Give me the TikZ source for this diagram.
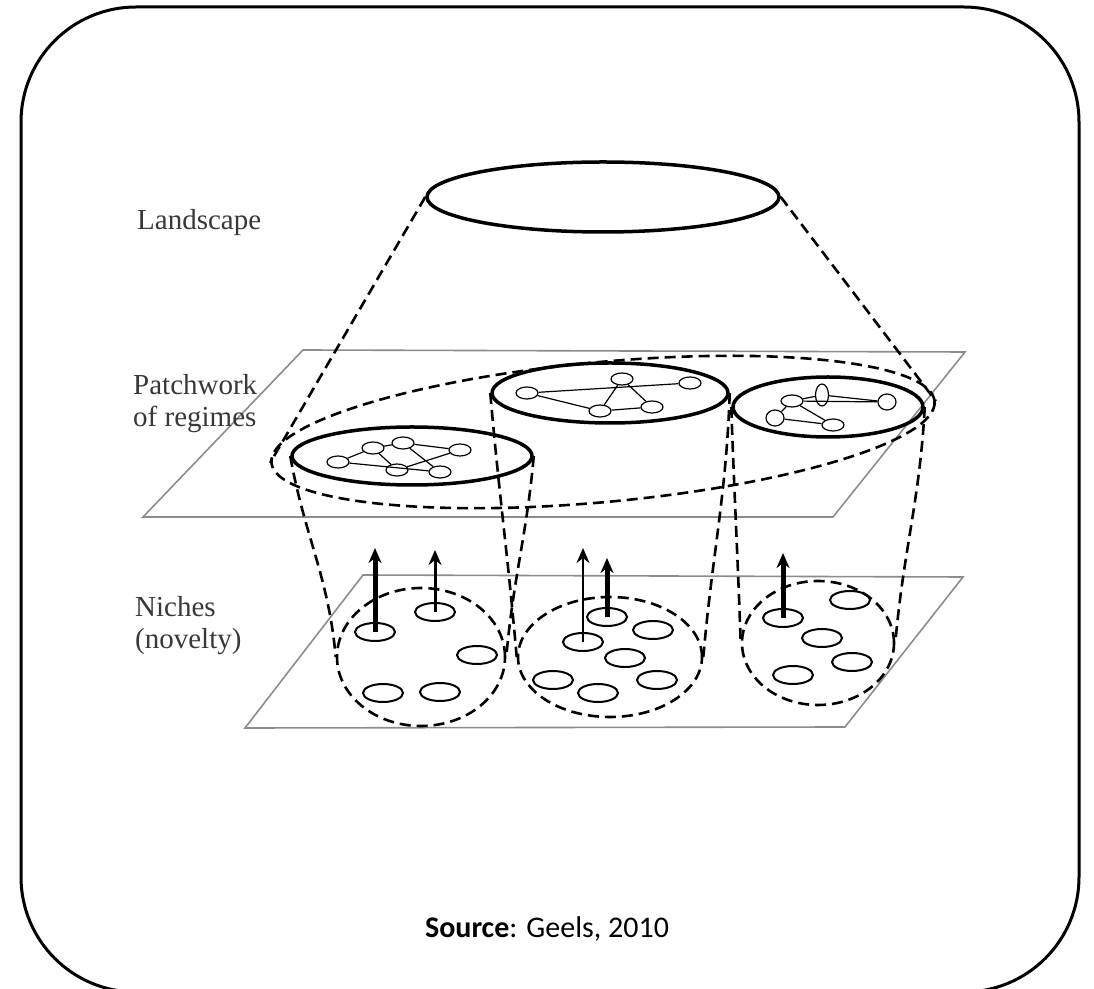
\documentclass[tikz,border=0pt]{standalone}
\usepackage{fontspec}
\setmainfont{Liberation Serif}
\newfontfamily\srcfont{Carlito}
\usetikzlibrary{shapes.geometric,arrows.meta}

\begin{document}
\begin{tikzpicture}[x=1pt,y=1pt,
  plane/.style={draw=black!45,line width=1.6pt},
  regime/.style={ellipse,draw,line width=3.5pt,inner sep=0pt},
  pc/.style={ellipse,draw,line width=1.2pt,inner sep=0pt,minimum width=22pt,minimum height=12pt},
  nc/.style={ellipse,draw,line width=2pt,inner sep=0pt,minimum width=40pt,minimum height=18pt},
  grp/.style={ellipse,draw,line width=2.6pt,dash pattern=on 11pt off 6pt,inner sep=0pt},
  dsh/.style={line width=2.6pt,dash pattern=on 11pt off 6pt},
  lbl/.style={text=black!78,font=\fontsize{29}{32}\selectfont,align=left,anchor=west,inner sep=0pt},
  up/.style={-{Stealth[length=15pt,width=13pt]}}]
 \useasboundingbox (0,0) rectangle (1094,988); %画像の大きさ
 \draw[line width=3pt,rounded corners=115pt] (21,981) rectangle (1079,-4); %枠

 % 面
 \coordinate (P1) at (303,638); \coordinate (P2) at (965,636);
 \coordinate (P3) at (833,471); \coordinate (P4) at (143,471);
 \coordinate (Q1) at (363,413); \coordinate (Q2) at (963,411);
 \coordinate (Q3) at (845,261); \coordinate (Q4) at (245,260);
 \draw[plane] (P1)--(P2)--(P3)--(P4)--cycle; %regimeの面
 \draw[plane] (Q1)--(Q2)--(Q3)--(Q4)--cycle; %nicheの面

 % ラベル
 \node[lbl] (Lland) at (137,765) {Landscape};
 \node[lbl] (Lreg) at (133,584) {Patchwork\\of regimes};
 \node[lbl] (Lnic) at (135,362) {Niches\\(novelty)};
 \node[font=\srcfont\fontsize{30}{36}\selectfont,inner sep=0pt] (src) at (547,59) {\textbf{Source}: Geels, 2010};

 % landscape
 \node[regime,minimum width=352pt,minimum height=70pt] (land) at (603,791) {};
 \node[grp,rotate=5.3,minimum width=666pt,minimum height=140pt] (patch) at (603,556) {};
 \draw[dsh] (land.west)--(patch.west);
 \draw[dsh] (land.east)--(patch.east);

 % regimes
 \node[regime,minimum width=240pt,minimum height=58pt] (R1) at (412,532) {};
 \node[regime,minimum width=236pt,minimum height=60pt] (R2) at (610,595) {};
 \node[regime,minimum width=190pt,minimum height=60pt] (R3) at (828,581) {};

 % R1のネットワーク
 \node[pc] (a) at (338,526) {}; \node[pc] (b) at (373,540) {};
 \node[pc] (c) at (403,545) {}; \node[pc] (d) at (460,538) {};
 \node[pc] (e) at (397,518) {}; \node[pc] (f) at (440,516) {};
 \draw[line width=1.2pt] (a)--(b) (a)--(f) (b)--(c) (b)--(e) (c)--(d) (c)--(f) (e)--(d);
 % R2のネットワーク
 \node[pc] (g) at (527,595) {}; \node[pc] (h) at (622,609) {};
 \node[pc] (i) at (600,577) {}; \node[pc] (j) at (652,581) {};
 \node[pc] (k) at (690,605) {};
 \draw[line width=1.2pt] (g)--(i) (g)--(k) (h)--(i) (i)--(j) (h)--(j);
 % R3のネットワーク
 \node[pc,minimum width=13pt,minimum height=22pt] (l) at (822,593) {};
 \node[pc] (m) at (792,587) {};
 \node[pc,minimum width=18pt,minimum height=16pt] (n) at (775,570) {};
 \node[pc] (o) at (833,563) {};
 \node[pc,minimum width=18pt,minimum height=16pt] (p) at (887,586) {};
 \draw[line width=1.2pt] (l)--(p) (m)--(l) (m)--(o) (n)--(m) (n)--(o) (m)--(p);

 % niches
 \node[grp,minimum width=168pt,minimum height=138pt] (N1) at (421,331) {};
 \node[grp,minimum width=184pt,minimum height=120pt] (N2) at (610,331) {};
 \node[grp,minimum width=152pt,minimum height=124pt] (N3) at (818,345) {};

 % 円柱の線
 \draw[dsh] (R1.west) to[out=-80,in=95] (N1.west);
 \draw[dsh] (R1.east) to[out=-95,in=85] (N1.east);
 \draw[dsh] (R2.west) to[out=-85,in=95] (N2.west);
 \draw[dsh] (R2.east) to[out=-92,in=85] (N2.east);
 \draw[dsh] (R3.west) to[out=-88,in=92] (N3.west);
 \draw[dsh] (R3.east) to[out=-93,in=85] (N3.east);

 % 小さいniche
 \node[nc] (n11) at (375,356) {}; \node[nc] (n12) at (435,376) {};
 \node[nc] (n13) at (477,333) {}; \node[nc] (n14) at (383,295) {};
 \node[nc] (n15) at (440,296) {};
 \node[nc] (n21) at (583,346) {}; \node[nc] (n22) at (607,371) {};
 \node[nc] (n23) at (653,358) {}; \node[nc] (n24) at (625,330) {};
 \node[nc] (n25) at (553,308) {}; \node[nc] (n26) at (598,295) {};
 \node[nc] (n27) at (657,308) {};
 \node[nc] (n31) at (783,370) {}; \node[nc] (n32) at (850,388) {};
 \node[nc] (n33) at (822,350) {}; \node[nc] (n34) at (852,326) {};
 \node[nc] (n35) at (793,313) {};

 % 矢印
 \coordinate (t11) at (375,440); \coordinate (t12) at (435,438);
 \coordinate (t21) at (583,440); \coordinate (t22) at (607,430);
 \coordinate (t31) at (783,435);
 \draw[up,line width=5pt] (n11.center)--(t11);
 \draw[up,line width=3pt] (n12.center)--(t12);
 \draw[up,line width=2pt] (n21.center)--(t21);
 \draw[up,line width=5pt] (n22.center)--(t22);
 \draw[up,line width=5pt] (n31.center)--(t31);
\end{tikzpicture}
\end{document}
